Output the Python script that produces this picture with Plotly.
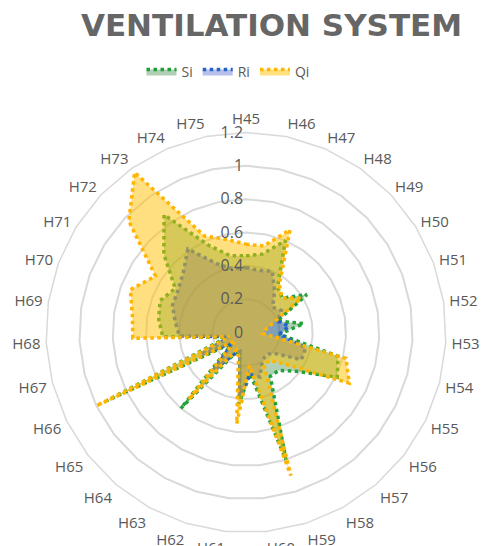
import plotly.graph_objects as go

# Hazard categories around the radar, clockwise from the top
categories = ["H45", "H46", "H47", "H48", "H49", "H50", "H51", "H52", "H53", "H54",
              "H55", "H56", "H57", "H58", "H59", "H60", "H61", "H62", "H63", "H64",
              "H65", "H66", "H67", "H68", "H69", "H70", "H71", "H72", "H73", "H74", "H75"]

si_values = [0.46, 0.48, 0.60, 0.33, 0.30, 0.43, 0.20, 0.35, 0.20, 0.57,
             0.61, 0.38, 0.30, 0.30, 0.80, 0.25, 0.43, 0.12, 0.15, 0.60,
             0.10, 0.93, 0.12, 0.50, 0.53, 0.55, 0.50, 0.68, 0.86, 0.57, 0.47]

ri_values = [0.39, 0.38, 0.40, 0.30, 0.22, 0.25, 0.20, 0.26, 0.20, 0.37,
             0.37, 0.20, 0.18, 0.20, 0.28, 0.25, 0.38, 0.12, 0.15, 0.30,
             0.10, 0.30, 0.10, 0.40, 0.43, 0.47, 0.48, 0.52, 0.61, 0.45, 0.39]

qi_values = [0.53, 0.53, 0.67, 0.35, 0.30, 0.39, 0.18, 0.12, 0.10, 0.62,
             0.69, 0.32, 0.22, 0.22, 0.90, 0.20, 0.55, 0.15, 0.12, 0.53,
             0.08, 1.00, 0.10, 0.68, 0.69, 0.74, 0.64, 0.97, 1.17, 0.63, 0.57]

radial_ticks = [0, 0.2, 0.4, 0.6, 0.8, 1, 1.2]

series = [
    ("Si", si_values, "#22A03A", "rgba(55,138,68,0.40)"),
    ("Ri", ri_values, "#2563C8", "rgba(30,60,200,0.32)"),
    ("Qi", qi_values, "#FFB400", "rgba(255,192,0,0.50)"),
]

fig = go.Figure()
for name, vals, line_col, fill_col in series:
    fig.add_trace(go.Scatterpolar(
        r=vals + vals[:1],
        theta=categories + categories[:1],
        name=name,
        mode="lines",
        fill="toself",
        fillcolor=fill_col,
        line=dict(color=line_col, width=3.5, dash="dot"),
        hoverinfo="skip",
    ))

grid_col = "#D9D9D9"
text_col = "#595959"

fig.update_layout(
    width=486,
    height=546,
    margin=dict(l=0, r=0, t=0, b=0),
    paper_bgcolor="white",
    plot_bgcolor="white",
    font=dict(family="Open Sans", color=text_col),
    title=dict(
        text="<b>VENTILATION SYSTEM</b>",
        font=dict(family="DejaVu Sans", size=31, color="#666666"),
        x=271.5 / 486, xanchor="center",
        y=1 - 25 / 546, yanchor="middle",
    ),
    legend=dict(
        orientation="h",
        x=228 / 486, xanchor="center",
        y=1 - 72 / 546, yanchor="middle",
        font=dict(size=14, color=text_col),
        itemwidth=30,
        bgcolor="rgba(0,0,0,0)",
    ),
    polar=dict(
        domain=dict(x=[46 / 486, 446 / 486], y=[13.5 / 546, 413.5 / 546]),
        bgcolor="white",
        gridshape="linear",
        radialaxis=dict(
            range=[0, 1.2],
            tickvals=radial_ticks,
            ticktext=[f"{v:g}" for v in radial_ticks],
            angle=90,
            tickangle=90,
            side="counterclockwise",
            showline=False,
            ticks="",
            gridcolor=grid_col,
            gridwidth=1.5,
            tickfont=dict(size=16, color=text_col),
        ),
        angularaxis=dict(
            type="category",
            categoryorder="array",
            categoryarray=categories,
            rotation=90,
            direction="clockwise",
            showgrid=False,
            showline=True,
            linecolor=grid_col,
            linewidth=1.5,
            ticks="outside",
            ticklen=2,
            tickcolor="rgba(0,0,0,0)",
            tickfont=dict(size=15, color=text_col),
        ),
    ),
)

fig.write_html("out.html")
